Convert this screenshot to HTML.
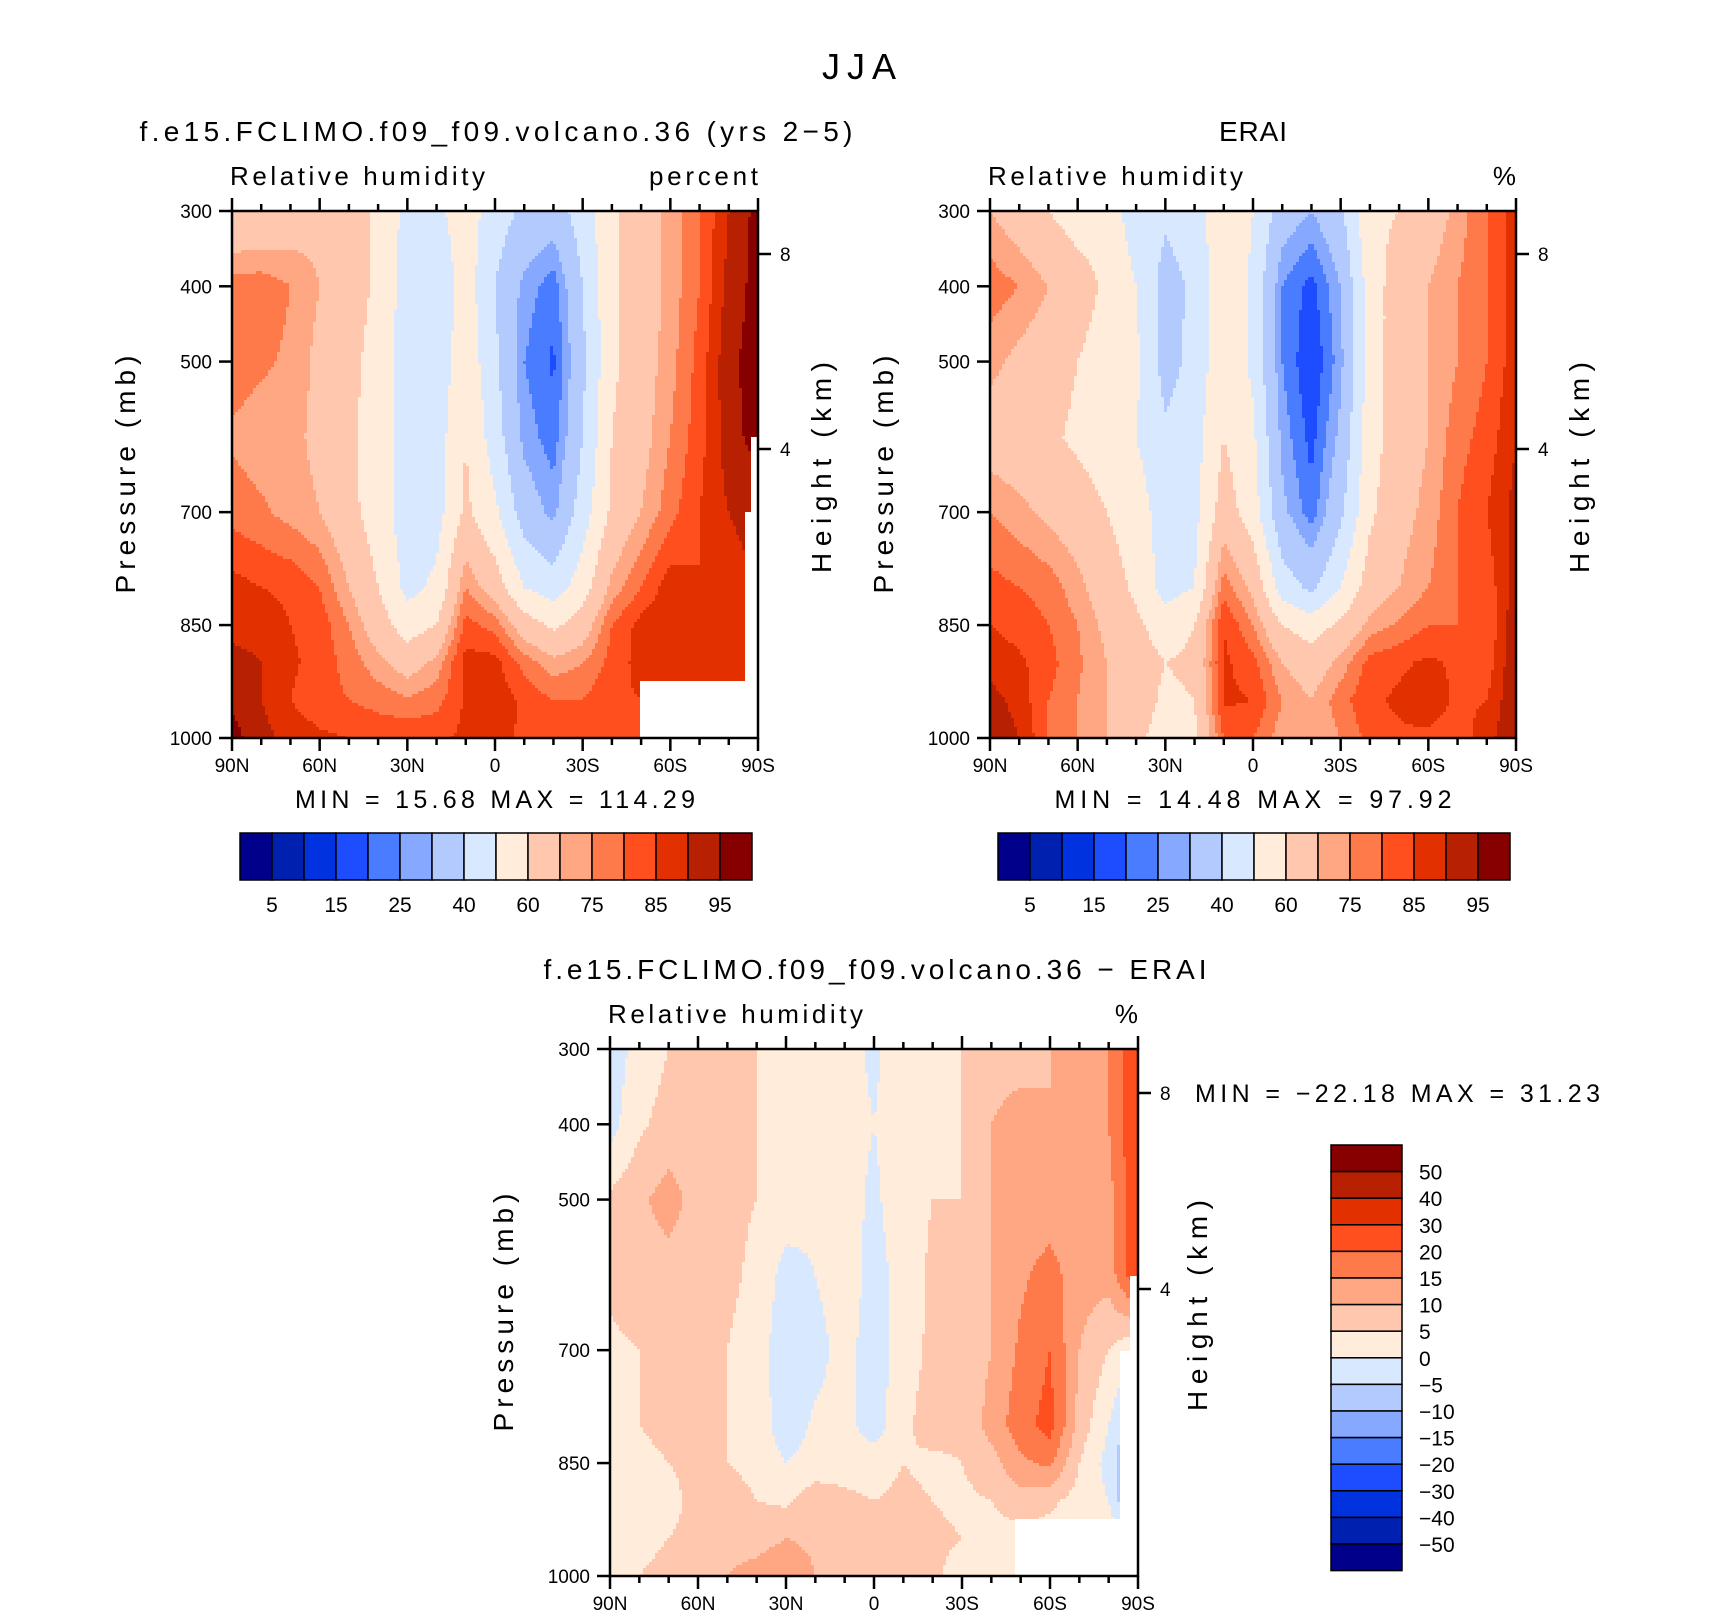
<!DOCTYPE html>
<html><head><meta charset="utf-8">
<style>
body{margin:0;background:#fff;}
svg{display:block;font-family:"Liberation Sans",Helvetica,Arial,sans-serif;}
</style></head>
<body>
<svg id="fig" width="1710" height="1620" viewBox="0 0 1710 1620" xmlns="http://www.w3.org/2000/svg">
<text x="859" y="79" font-size="36" text-anchor="middle" textLength="74" lengthAdjust="spacing">JJA</text>
<g id="g1"></g>
<g id="g2"></g>
<g id="g3"></g>
</svg>
<script>
const lats = [90,80,70,60,50,40,30,20,10,0,-10,-20,-30,-40,-50,-60,-70,-80,-90];
const plevs = [300,400,500,600,700,800,850,900,950,1000];
const xTickLabels = ["90N","60N","30N","0","30S","60S","90S"];
const pTicks = [300,400,500,700,850,1000];
const hTicks = [8,4];
const absLevels = [5,10,15,20,25,30,40,50,60,70,75,80,85,90,95];
const absLabels = ["5","15","25","40","60","75","85","95"];
const diffLevels = [-50,-40,-30,-20,-15,-10,-5,0,5,10,15,20,30,40,50];
const diffLabels = ["50","40","30","20","15","10","5","0","\u22125","\u221210","\u221215","\u221220","\u221230","\u221240","\u221250"];
const colors = ["#00008a","#0020b0","#0032e0","#1e4cff","#4a7cff","#86a8ff","#b3caff","#d7e8ff","#ffecdb","#ffc8ae","#ffa683","#ff7a4b","#ff4f1e","#e33000","#b72000","#860000"];

const modelRH = [
[60,62,65,68,65,58,47,48,55,45,38,35,45,58,65,72,80,90,97],
[78,78,75,70,65,58,45,42,55,40,28,22,40,58,65,72,80,92,97],
[78,76,74,68,63,56,45,43,57,42,25,19,38,58,66,73,82,94,97],
[74,72,72,68,62,55,45,45,60,45,28,22,40,60,67,75,83,93,97],
[78,76,73,70,63,55,45,46,62,52,35,28,45,62,70,78,85,90,92],
[87,85,84,80,70,60,47,52,75,65,50,45,55,72,80,88,85,88,90],
[88,88,85,83,75,65,55,60,82,78,65,58,65,80,87,90,85,85,88],
[92,90,86,83,78,72,66,72,87,87,78,72,75,82,87,88,85,85,85],
[94,90,85,82,80,78,76,78,86,88,84,80,80,84,85,85,85,85,85],
[97,92,88,86,85,84,84,84,86,87,84,80,80,84,85,85,85,85,85]];
const eraiRH = [
[70,65,60,55,55,45,42,45,58,50,35,30,38,58,60,65,72,80,88],
[78,75,70,65,58,50,36,42,58,48,25,18,30,55,65,70,75,80,88],
[72,68,65,60,55,52,36,43,58,48,25,15,28,55,65,70,75,80,88],
[66,64,62,58,55,50,42,46,60,52,28,18,32,56,65,70,78,82,90],
[75,72,68,65,60,55,45,47,65,55,32,22,38,58,67,72,80,85,92],
[82,80,78,72,65,58,46,50,78,68,45,38,50,65,70,75,80,82,92],
[85,83,80,75,68,62,55,60,85,75,60,55,62,72,76,80,80,80,95],
[88,86,82,76,70,65,60,62,86,82,70,65,72,82,84,86,84,82,95],
[92,88,80,75,70,65,58,60,86,85,75,70,78,84,86,88,84,85,95],
[95,90,80,75,70,62,56,58,80,80,72,70,75,82,84,84,82,88,95]];
const diffRH = [
[-3,2,5,7,5,5,3,2,2,-1,3,5,5,8,8,10,12,15,25],
[-2,4,7,7,6,5,3,2,2,0,3,4,5,10,12,10,12,15,25],
[6,9,12,8,6,5,3,1,2,-1,3,5,5,10,12,12,12,13,25],
[6,8,8,7,6,4,-2,0,3,-2,2,6,6,10,14,17,12,12,25],
[4,5,7,6,5,3,-4,-2,2,-3,3,6,6,10,16,20,10,5,0],
[5,5,6,6,5,3,-3,1,2,-3,4,7,6,12,18,22,8,0,-10],
[3,4,5,6,5,3,0,2,3,3,5,4,5,8,14,16,5,-2,-15],
[1,3,4,6,8,5,4,8,6,5,6,5,4,5,8,6,3,0,-15],
[2,4,5,6,8,8,10,9,6,6,8,6,5,3,3,3,3,3,3],
[2,5,6,8,10,12,14,10,5,6,8,6,3,2,2,2,2,2,2]];

const NS="http://www.w3.org/2000/svg";
function mk(parent,tag,attrs,txt){const e=document.createElementNS(NS,tag);for(const k in attrs)e.setAttribute(k,attrs[k]);if(txt!==undefined)e.textContent=txt;parent.appendChild(e);return e;}

function colorIdx(v,levels){let i=0;while(i<levels.length&&v>=levels[i])i++;return i;}
function interp(grid,lat,p){
  let fx=(90-lat)/10; fx=Math.max(0,Math.min(18,fx)); let i0=Math.min(Math.floor(fx),lats.length-2); let tx=fx-i0;
  let j0=0; while(j0<plevs.length-2&&p>plevs[j0+1])j0++;
  let ty=(p-plevs[j0])/(plevs[j0+1]-plevs[j0]); ty=Math.max(0,Math.min(1,ty));
  const a=grid[j0][i0],b=grid[j0][i0+1],c=grid[j0+1][i0],d=grid[j0+1][i0+1];
  return (a*(1-tx)+b*tx)*(1-ty)+(c*(1-tx)+d*tx)*ty;
}

function panel(gid,cfg){
  const g=document.getElementById(gid);
  const L=cfg.x0,R=cfg.x1,T=cfg.y0,B=cfg.y1,W=R-L,H=B-T;
  const xs=lat=>L+(90-lat)/180*W;
  const ys=p=>T+(p-300)/700*H;
  const fld=mk(g,'g',{});
  
  
  const cs=3;
  for(let py=T;py<B;py+=cs){
    const h=Math.min(cs,B-py);
    const p=300+((py+h/2)-T)/H*700;
    let runStart=L,runC=-1;
    const flush=(end)=>{
      if(runC>=0){const r=mk(fld,'rect',{x:runStart,y:py,width:end-runStart+0.6,height:h+0.6,fill:colors[runC]});
        
        }
    };
    for(let px=L;px<R;px+=cs){
      const lat=90-((px+cs/2)-L)/W*180;
      const c=colorIdx(interp(cfg.grid,lat,p),cfg.levels);
      if(c!==runC){flush(px);runStart=px;runC=c;}
    }
    flush(R);
  }
  cfg.missing.forEach(m=>{const r=mk(g,'rect',{x:m[0],y:m[1],width:m[2],height:m[3],fill:'#fff'});
    
    });
  const ax=mk(g,'g',{stroke:'#000','stroke-width':2.5,fill:'none'});
  
  
  mk(ax,'rect',{x:L,y:T,width:W,height:H});
  for(let lat=90;lat>=-90;lat-=10){
    const x=xs(lat),maj=(lat%30===0);const len=maj?13:7;
    mk(ax,'line',{x1:x,y1:B,x2:x,y2:B+len});
    mk(ax,'line',{x1:x,y1:T,x2:x,y2:T-len});
  }
  xTickLabels.forEach((t,i)=>{const e=mk(g,'text',{x:xs(90-i*30),y:B+34,'font-size':19,'text-anchor':'middle'},t);
    });
  for(let p=300;p<=1000;p+=50){const maj=pTicks.includes(p);mk(ax,'line',{x1:L,y1:ys(p),x2:L-(maj?13:0),y2:ys(p)});}
  pTicks.forEach(p=>{const e=mk(g,'text',{x:L-20,y:ys(p)+7,'font-size':19,'text-anchor':'end'},String(p));
    });
  cfg.hY.forEach((y,i)=>{mk(ax,'line',{x1:R,y1:y,x2:R+13,y2:y});
    const e=mk(g,'text',{x:R+22,y:y+7,'font-size':19},String(hTicks[i]));
    });
  const yl=mk(g,'text',{x:0,y:0,'font-size':28,'text-anchor':'middle',textLength:238,lengthAdjust:'spacing',transform:`translate(${L-97},${(T+B)/2}) rotate(-90)`},'Pressure (mb)');
  
  const hl=mk(g,'text',{x:0,y:0,'font-size':28,'text-anchor':'middle',textLength:211,lengthAdjust:'spacing',transform:`translate(${R+cfg.hOff},${(T+B)/2-7}) rotate(-90)`},'Height (km)');
  
  const tt=mk(g,'text',{x:cfg.titleX,y:T-70,'font-size':28,'text-anchor':'middle',textLength:cfg.titleW,lengthAdjust:'spacing'},cfg.title);
  
  const lt=mk(g,'text',{x:L-2,y:T-26,'font-size':26,textLength:255,lengthAdjust:'spacing'},'Relative humidity');
  
  const ua={x:R,y:T-26,'font-size':26,'text-anchor':'end'};
  if(cfg.units==='percent'){ua.textLength=109;ua.lengthAdjust='spacing';}
  const ut=mk(g,'text',ua,cfg.units);
  
  const mm=mk(g,'text',{x:cfg.mmX,y:cfg.mmY,'font-size':25,'text-anchor':cfg.mmAnchor,textLength:cfg.mmW,lengthAdjust:'spacing'},cfg.mm);
  
}

function hbar(cx){
  const g=document.getElementById('fig');const cb=mk(g,'g',{});
  
  const x0=cx,y0=833,bw=32,bh=47;
  colors.forEach((c,i)=>{const r=mk(cb,'rect',{x:x0+i*bw,y:y0,width:bw,height:bh,fill:c,stroke:'#000','stroke-width':1.5});
    });
  absLabels.forEach((t,i)=>{const e=mk(cb,'text',{x:x0+(2*i+1)*bw,y:912,'font-size':21,'text-anchor':'middle'},t);
    });
}
function vbar(){
  const g=document.getElementById('fig');const cb=mk(g,'g',{});
  
  const x0=1331,y0=1145,bw=71,bh=26.6;
  colors.slice().reverse().forEach((c,i)=>{const r=mk(cb,'rect',{x:x0,y:y0+i*bh,width:bw,height:bh,fill:c,stroke:'#000','stroke-width':1.5});
    });
  diffLabels.forEach((t,i)=>{const e=mk(cb,'text',{x:1419,y:y0+(i+1)*bh+8,'font-size':21},t);
    });
}

panel('g1',{x0:232,x1:758,y0:211,y1:738,grid:modelRH,levels:absLevels,hY:[254,449],hOff:73,title:'f.e15.FCLIMO.f09_f09.volcano.36 (yrs 2\u22125)',titleX:496,titleW:713,units:'percent',
  mm:'MIN =   15.68   MAX = 114.29',mmX:495,mmY:808,mmAnchor:'middle',mmW:400,
  missing:[[640,681,118,57],[745,512,13,226],[751,437,7,80]]});
panel('g2',{x0:990,x1:1516,y0:211,y1:738,grid:eraiRH,levels:absLevels,hY:[254,449],hOff:73,title:'ERAI',titleX:1253,titleW:68,units:'%',
  mm:'MIN =   14.48   MAX =   97.92',mmX:1253,mmY:808,mmAnchor:'middle',mmW:397,missing:[]});
panel('g3',{x0:610,x1:1138,y0:1049,y1:1576,grid:diffRH,levels:diffLevels,hY:[1093,1289],hOff:69,title:'f.e15.FCLIMO.f09_f09.volcano.36 \u2212 ERAI',titleX:875,titleW:663,units:'%',
  mm:'MIN = \u221222.18   MAX =   31.23',mmX:1195,mmY:1102,mmAnchor:'start',mmW:405,
  missing:[[1015,1519,123,57],[1120,1351,18,225],[1130,1276,8,80]]});
hbar(240);hbar(998);vbar();
</script>
</body></html>
